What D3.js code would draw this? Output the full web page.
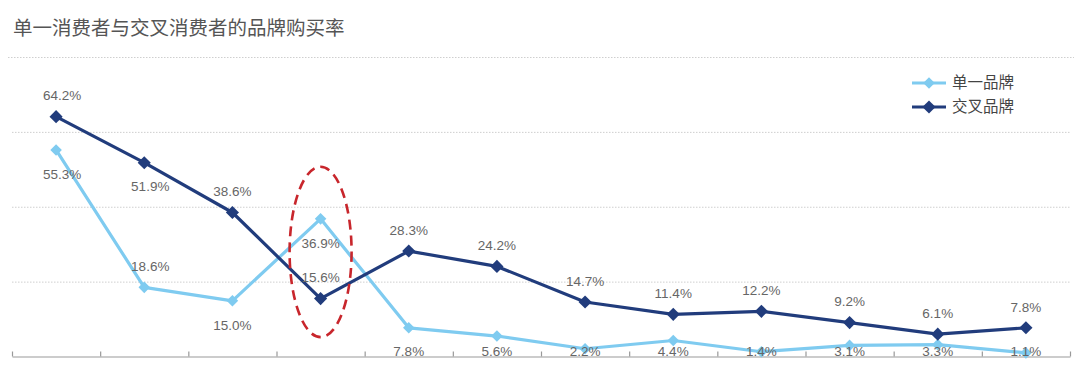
<!DOCTYPE html>
<html>
<head>
<meta charset="utf-8">
<script src="https://cdn.jsdelivr.net/npm/d3@7"></script>
<style>
  body { margin: 0; background: #fff; }
  svg { display: block; }
</style>
</head>
<body>
<div id="chart"></div>
<script>
// categories have no visible labels in the original
var categories = ["1", "2", "3", "4", "5", "6", "7", "8", "9", "10", "11", "12"];
var seriesNames = ["单一品牌", "交叉品牌"];
var singleBrand = [55.3, 18.6, 15.0, 36.9, 7.8, 5.6, 2.2, 4.4, 1.4, 3.1, 3.3, 1.1];
var crossBrand = [64.2, 51.9, 38.6, 15.6, 28.3, 24.2, 14.7, 11.4, 12.2, 9.2, 6.1, 7.8];
var gridValues = [20, 40, 60, 80];
// where each value label sits relative to its point
var singlePlace = ["below", "above", "below", "below", "axis", "axis", "axis", "axis", "axis", "axis", "axis", "axis"];
var crossPlace = ["above", "below", "above", "above", "above", "above", "above", "above", "above", "above", "above", "above"];
// highlighted category (red dashed ellipse) and its value span
var highlightIndex = 3;
var highlightSpan = [5.3, 50.8];

var width = 1080, height = 367;
var colors = ["#7fcbf0", "#213c7c"];

var svg = d3.select("#chart").append("svg")
    .attr("width", width)
    .attr("height", height);

// title
svg.append("text")
    .attr("x", 13)
    .attr("y", 35)
    .style("font-family", "'Noto Sans CJK SC', sans-serif")
    .style("font-size", "19.5px")
    .style("fill", "#555")
    .text("单一消费者与交叉消费者的品牌购买率");

var x = d3.scaleBand()
    .domain(categories)
    .range([12, 1070]);

var xEdge = d3.scaleLinear()
    .domain([0, categories.length])
    .range([12, 1070]);

var y = d3.scaleLinear()
    .domain([0, 80])
    .range([357, 57.5]);

// dotted grid lines
svg.selectAll(".grid")
    .data(gridValues)
    .enter()
    .append("line")
    .attr("class", "grid")
    .attr("x1", function(d) { return d === 80 ? 8 : 12; })
    .attr("x2", function(d) { return d === 80 ? 1074 : 1070; })
    .attr("y1", function(d) { return y(d); })
    .attr("y2", function(d) { return y(d); })
    .style("stroke", "#cfcfcf")
    .style("stroke-width", 1)
    .style("stroke-dasharray", "1.5,1.5");

// bottom axis, ticks pointing up at category edges
var xAxis = d3.axisBottom(xEdge)
    .tickValues(d3.range(0, categories.length + 1))
    .tickFormat("")
    .tickSize(-5)
    .tickSizeOuter(0);

var axisG = svg.append("g")
    .attr("transform", "translate(0,356.5)")
    .call(xAxis);
axisG.select(".domain").style("stroke", "#999").style("stroke-width", 1.2);
axisG.selectAll(".tick line").style("stroke", "#999").style("stroke-width", 1.2);

var line = d3.line()
    .x(function(d, i) { return x(categories[i]) + x.bandwidth() / 2; })
    .y(function(d) { return y(d); });

var diamond = d3.symbol().type(d3.symbolDiamond2);

var series = [singleBrand, crossBrand];
var markerSize = [85, 110];

series.forEach(function(values, s) {
    svg.append("path")
        .datum(values)
        .attr("d", line)
        .style("fill", "none")
        .style("stroke", colors[s])
        .style("stroke-width", 3.2)
        .style("stroke-linejoin", "round");

    svg.selectAll(".pt" + s)
        .data(values)
        .enter()
        .append("path")
        .attr("class", "pt" + s)
        .attr("d", diamond.size(markerSize[s]))
        .attr("transform", function(d, i) {
            return "translate(" + (x(categories[i]) + x.bandwidth() / 2) + "," + y(d) + ")";
        })
        .style("fill", colors[s]);
});

// red dashed ellipse around the crossing point
svg.append("ellipse")
    .attr("cx", x(categories[highlightIndex]) + x.bandwidth() / 2)
    .attr("cy", (y(highlightSpan[0]) + y(highlightSpan[1])) / 2)
    .attr("rx", 31)
    .attr("ry", (y(highlightSpan[0]) - y(highlightSpan[1])) / 2)
    .style("fill", "none")
    .style("stroke", "#c8262c")
    .style("stroke-width", 2.6)
    .style("stroke-dasharray", "10,6");

// value labels
function labelY(v, place) {
    if (place === "above") return y(v) - 21;
    if (place === "below") return y(v) + 24;
    return 351.5;
}

function drawLabels(values, places, cls) {
    svg.selectAll("." + cls)
        .data(values)
        .enter()
        .append("text")
        .attr("class", cls)
        .attr("x", function(d, i) {
            var shift = i < 2 ? 6 : 0;
            return x(categories[i]) + x.bandwidth() / 2 + shift;
        })
        .attr("y", function(d, i) { return labelY(d, places[i]); })
        .attr("dy", "0.35em")
        .attr("text-anchor", "middle")
        .style("font-family", "'Liberation Sans', Arial, sans-serif")
        .style("font-size", "13.5px")
        .style("fill", "#666")
        .text(function(d) { return d.toFixed(1) + "%"; });
}

drawLabels(singleBrand, singlePlace, "lbl0");
drawLabels(crossBrand, crossPlace, "lbl1");

// legend
var legend = svg.selectAll(".legend")
    .data(seriesNames)
    .enter()
    .append("g")
    .attr("class", "legend")
    .attr("transform", function(d, i) { return "translate(912," + (83 + i * 24) + ")"; });

legend.append("line")
    .attr("x1", 0)
    .attr("x2", 34)
    .style("stroke", function(d, i) { return colors[i]; })
    .style("stroke-width", 3.2);

legend.append("path")
    .attr("d", function(d, i) { return diamond.size(markerSize[i])(); })
    .attr("transform", "translate(17,0)")
    .style("fill", function(d, i) { return colors[i]; });

legend.append("text")
    .attr("x", 40)
    .attr("dy", "0.35em")
    .style("font-family", "'Noto Sans CJK SC', sans-serif")
    .style("font-size", "15.5px")
    .style("fill", "#444")
    .text(function(d) { return d; });
</script>
</body>
</html>
